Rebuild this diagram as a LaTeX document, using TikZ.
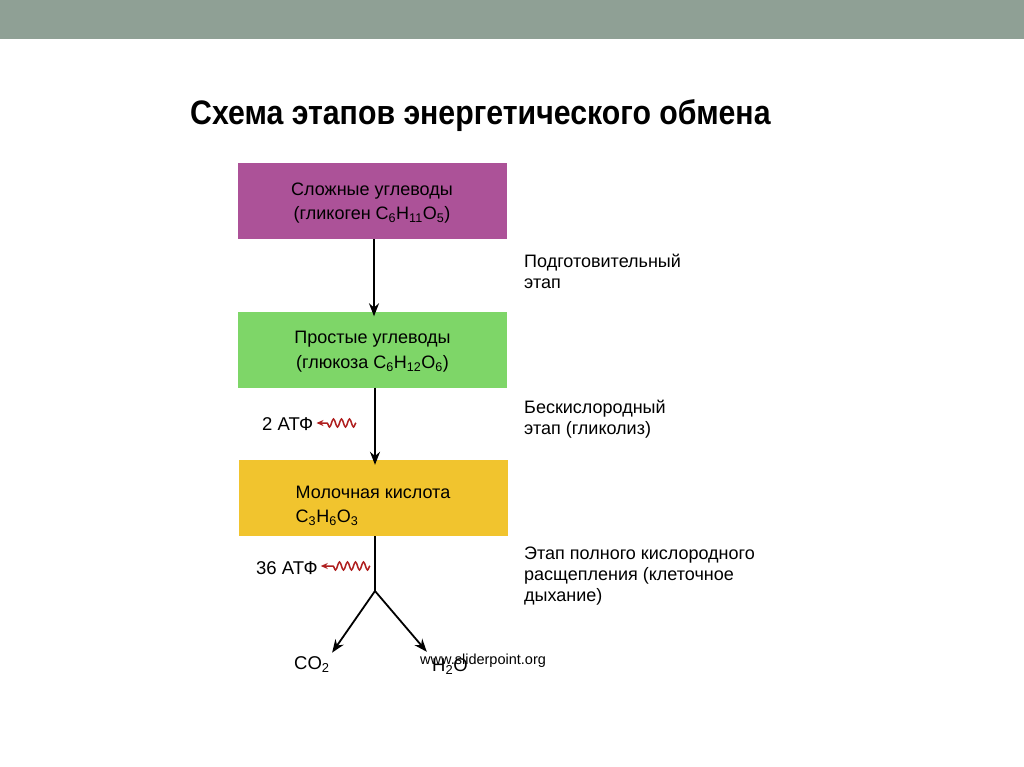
\documentclass[tikz,border=0pt]{standalone}
\usepackage{fontspec}
\setmainfont{Liberation Sans}
\newfontfamily\titlefont{Liberation Sans}[FakeStretch=0.89]
\usetikzlibrary{decorations.pathmorphing,arrows.meta}
\definecolor{barcol}{RGB}{143,160,149}
\definecolor{magbox}{RGB}{172,82,152}
\definecolor{grnbox}{RGB}{126,214,104}
\definecolor{yelbox}{RGB}{241,196,46}
\definecolor{wavecol}{RGB}{175,30,30}
\tikzset{
  box/.style={minimum width=269pt, minimum height=76pt, inner sep=0pt, font=\fontsize{18}{24.5}\selectfont},
  lbl/.style={anchor=base west, inner sep=0pt, align=left, font=\fontsize{18}{21}\selectfont},
  atp/.style={anchor=base west, inner sep=0pt, font=\fontsize{18.5}{20}\selectfont},
  prod/.style={anchor=base west, inner sep=0pt, font=\fontsize{18.5}{20}\selectfont},
  flow/.style={line width=1.8pt, -{Stealth[length=13pt,width=10pt]}},
  wave/.style={wavecol, line width=1.5pt, decorate,
    decoration={snake, amplitude=4pt, segment length=8pt, post length=9pt},
    -{Stealth[length=7pt,width=6pt]}},
}
\begin{document}
\begin{tikzpicture}[x=1pt,y=-1pt]
\useasboundingbox (0,0) rectangle (1024,767);
\fill[white] (0,0) rectangle (1024,767);
\fill[barcol] (0,0) rectangle (1024,39);
\node[anchor=base west, inner sep=0pt, font=\titlefont\bfseries\fontsize{34}{38}\selectfont] (title) at (190,125) {Схема этапов энергетического обмена};

\node[box, fill=magbox, align=center] (b1) at (372,201) {\strut Сложные углеводы\\(гликоген C\textsubscript{6}H\textsubscript{11}O\textsubscript{5})};
\node[box, fill=grnbox, align=center] (b2) at (372.5,349.5) {\strut Простые углеводы\\(глюкоза C\textsubscript{6}H\textsubscript{12}O\textsubscript{6})};
\node[box, fill=yelbox, align=left] (b3) at (373,498) {\rule{0pt}{28pt}Молочная кислота\\C\textsubscript{3}H\textsubscript{6}O\textsubscript{3}};

\coordinate (split) at (375,591);
\node[prod] (co2) at (294,669) {CO\textsubscript{2}};
\node[prod] (h2o) at (432,671) {H\textsubscript{2}O};

\draw[flow] (b1.south -| 374,0) -- ([yshift=-5pt]b2.north -| 374,0);
\draw[flow] (b2.south -| 375,0) -- ([yshift=-5pt]b3.north -| 375,0);
\draw[line width=1.8pt] (b3.south -| split) -- (split);
\draw[flow, shorten >=4pt] (split) -- (co2.north east);
\draw[flow, shorten >=8pt] (split) -- (h2o.north west);

\node[atp] (atp2) at (262,430) {2 АТФ};
\node[atp] (atp36) at (256,574) {36 АТФ};
\coordinate (w2) at (356,423);
\coordinate (w36) at (370,566);
\draw[wave] (w2) -- ([xshift=3pt]atp2.east |- w2);
\draw[wave] (w36) -- ([xshift=3pt]atp36.east |- w36);

\node[lbl] (l1) at (524,288) {Подготовительный\\этап};
\node[lbl] (l2) at (524,434) {Бескислородный\\этап (гликолиз)};
\node[lbl] (l3) at (524,601) {Этап полного кислородного\\расщепления (клеточное\\дыхание)};

\node[anchor=base west, inner sep=0pt, font=\fontsize{14.5}{16}\selectfont] (wm) at (420,664) {www.sliderpoint.org};
\end{tikzpicture}
\end{document}
